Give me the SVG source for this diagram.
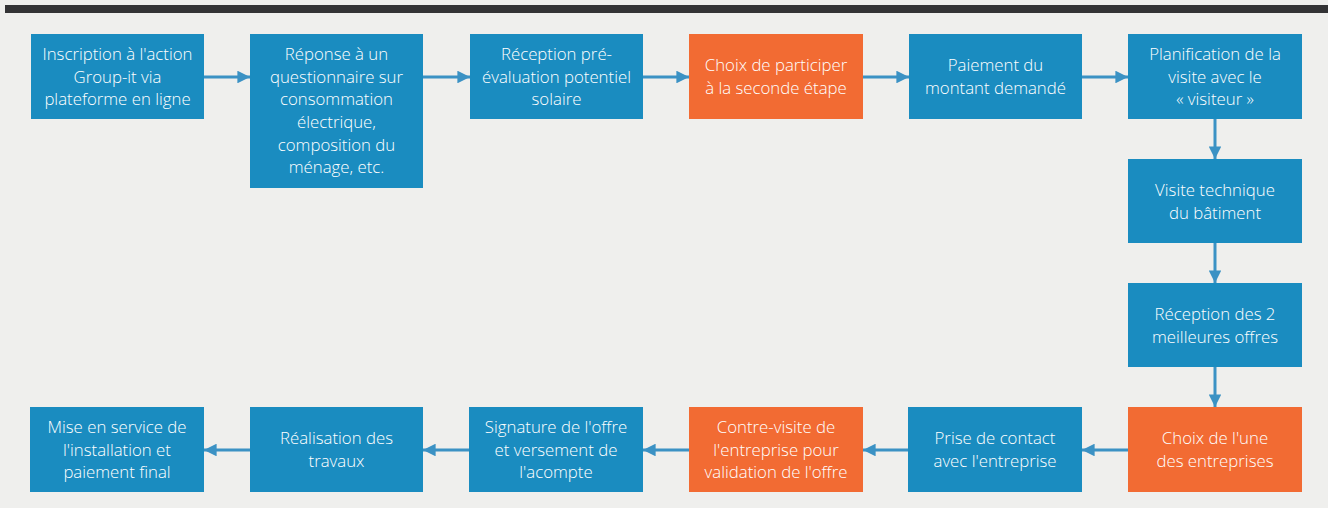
<svg xmlns="http://www.w3.org/2000/svg" width="1328" height="508" viewBox="0 0 1328 508">
<defs>
<style>
.b{fill:#1a8cc0}
.o{fill:#f26b33}
.t{font-family:"Open Sans","Liberation Sans",sans-serif;font-weight:300;font-size:16.8px;fill:#ffffff;text-anchor:middle}
.c{stroke:#3b92c4;stroke-width:3;fill:none}
</style>
<marker id="ah" viewBox="0 0 10 10" refX="10" refY="5" markerWidth="4.2" markerHeight="4.2" markerUnits="strokeWidth" orient="auto">
<path d="M0,0 L10,5 L0,10 z" fill="#3b92c4"/>
</marker>
</defs>
<rect width="1328" height="508" fill="#efefed"/>
<rect x="5" y="5" width="1323" height="8" fill="#333335"/>
<g id="connectors">
<line class="c" x1="204" y1="77" x2="250" y2="77" marker-end="url(#ah)"/>
<line class="c" x1="423" y1="77" x2="470" y2="77" marker-end="url(#ah)"/>
<line class="c" x1="643" y1="77" x2="689" y2="77" marker-end="url(#ah)"/>
<line class="c" x1="863" y1="77" x2="909" y2="77" marker-end="url(#ah)"/>
<line class="c" x1="1082" y1="77" x2="1128" y2="77" marker-end="url(#ah)"/>
<line class="c" x1="1215" y1="119" x2="1215" y2="159" marker-end="url(#ah)"/>
<line class="c" x1="1215" y1="243" x2="1215" y2="283" marker-end="url(#ah)"/>
<line class="c" x1="1215" y1="367" x2="1215" y2="407" marker-end="url(#ah)"/>
<line class="c" x1="1128" y1="450" x2="1082" y2="450" marker-end="url(#ah)"/>
<line class="c" x1="908" y1="450" x2="863" y2="450" marker-end="url(#ah)"/>
<line class="c" x1="689" y1="450" x2="643" y2="450" marker-end="url(#ah)"/>
<line class="c" x1="469" y1="450" x2="423" y2="450" marker-end="url(#ah)"/>
<line class="c" x1="250" y1="450" x2="204" y2="450" marker-end="url(#ah)"/>
</g>
<g id="n1"><rect class="b" x="31" y="34" width="173" height="85"/>
<text class="t" x="117.5"><tspan x="117.5" y="60">Inscription à l'action</tspan><tspan x="117.5" y="82.5">Group-it via</tspan><tspan x="117.5" y="105">plateforme en ligne</tspan></text></g>
<g id="n2"><rect class="b" x="250" y="34" width="173" height="154"/>
<text class="t"><tspan x="336.5" y="60">Réponse à un</tspan><tspan x="336.5" y="82.5">questionnaire sur</tspan><tspan x="336.5" y="105">consommation</tspan><tspan x="336.5" y="128">électrique,</tspan><tspan x="336.5" y="150.5">composition du</tspan><tspan x="336.5" y="173">ménage, etc.</tspan></text></g>
<g id="n3"><rect class="b" x="470" y="34" width="173" height="85"/>
<text class="t"><tspan x="556.5" y="60">Réception pré-</tspan><tspan x="556.5" y="82.5">évaluation potentiel</tspan><tspan x="556.5" y="105">solaire</tspan></text></g>
<g id="n4"><rect class="o" x="689" y="34" width="174" height="85"/>
<text class="t"><tspan x="776" y="71">Choix de participer</tspan><tspan x="776" y="93.5">à la seconde étape</tspan></text></g>
<g id="n5"><rect class="b" x="909" y="34" width="173" height="85"/>
<text class="t"><tspan x="995.5" y="71">Paiement du</tspan><tspan x="995.5" y="93.5">montant demandé</tspan></text></g>
<g id="n6"><rect class="b" x="1128" y="34" width="174" height="85"/>
<text class="t"><tspan x="1215" y="60">Planification de la</tspan><tspan x="1215" y="82.5">visite avec le</tspan><tspan x="1215" y="105">« visiteur »</tspan></text></g>
<g id="n7"><rect class="b" x="1128" y="159" width="174" height="84"/>
<text class="t"><tspan x="1215" y="196">Visite technique</tspan><tspan x="1215" y="218.5">du bâtiment</tspan></text></g>
<g id="n8"><rect class="b" x="1128" y="283" width="174" height="84"/>
<text class="t"><tspan x="1215" y="320">Réception des 2</tspan><tspan x="1215" y="342.5">meilleures offres</tspan></text></g>
<g id="n9"><rect class="o" x="1128" y="407" width="174" height="85"/>
<text class="t"><tspan x="1215" y="444">Choix de l'une</tspan><tspan x="1215" y="466.5">des entreprises</tspan></text></g>
<g id="n10"><rect class="b" x="908" y="407" width="174" height="85"/>
<text class="t"><tspan x="995" y="444">Prise de contact</tspan><tspan x="995" y="466.5">avec l'entreprise</tspan></text></g>
<g id="n11"><rect class="o" x="689" y="407" width="174" height="85"/>
<text class="t"><tspan x="776" y="433">Contre-visite de</tspan><tspan x="776" y="455.5">l'entreprise pour</tspan><tspan x="776" y="478">validation de l'offre</tspan></text></g>
<g id="n12"><rect class="b" x="469" y="407" width="174" height="85"/>
<text class="t"><tspan x="556" y="433">Signature de l'offre</tspan><tspan x="556" y="455.5">et versement de</tspan><tspan x="556" y="478">l'acompte</tspan></text></g>
<g id="n13"><rect class="b" x="250" y="407" width="173" height="85"/>
<text class="t"><tspan x="336.5" y="444">Réalisation des</tspan><tspan x="336.5" y="466.5">travaux</tspan></text></g>
<g id="n14"><rect class="b" x="30" y="407" width="174" height="85"/>
<text class="t"><tspan x="117" y="433">Mise en service de</tspan><tspan x="117" y="455.5">l'installation et</tspan><tspan x="117" y="478">paiement final</tspan></text></g>
</svg>
